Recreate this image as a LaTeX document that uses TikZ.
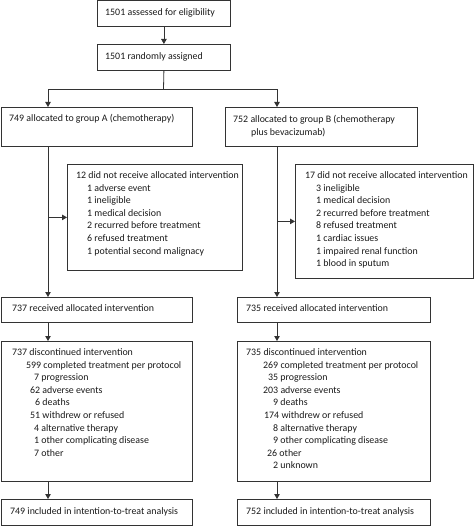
\documentclass[tikz,border=0pt]{standalone}
\usepackage{fontspec}
\setmainfont{Carlito}
\usetikzlibrary{arrows.meta}
\newcommand{\ind}[1]{\hspace*{#1pt}}
\tikzset{
  box/.style={draw=black!80, line width=0.8pt, anchor=north west, inner sep=0pt},
  txt/.style={anchor=north west, inner sep=0pt, align=left, font=\fontsize{9.9}{12.6}\selectfont, text=black!90},
  link/.style={draw=black!80, line width=0.8pt},
  arr/.style={link, -{Triangle[length=5pt,width=5.5pt]}}
}
\begin{document}
\begin{tikzpicture}[x=1pt,y=-1pt]
\useasboundingbox (0,0) rectangle (474,526);

% Boxes
\node[box, minimum width=133pt, minimum height=26pt] (elig) at (97,0.5) {};
\node[box, minimum width=133pt, minimum height=26pt] (rand) at (97,44) {};
\node[box, minimum width=191pt, minimum height=39pt] (allocA) at (1,107) {};
\node[box, minimum width=192pt, minimum height=39pt] (allocB) at (225,107) {};
\node[box, minimum width=175pt, minimum height=106pt] (exclA) at (67,164) {};
\node[box, minimum width=178pt, minimum height=114pt] (exclB) at (295,164) {};
\node[box, minimum width=191pt, minimum height=25pt] (recvA) at (1,297) {};
\node[box, minimum width=193pt, minimum height=25pt] (recvB) at (237,297) {};
\node[box, minimum width=191pt, minimum height=140pt] (discA) at (1,341) {};
\node[box, minimum width=193pt, minimum height=140pt] (discB) at (237,341) {};
\node[box, minimum width=191pt, minimum height=26pt] (ittA) at (1,499) {};
\node[box, minimum width=193pt, minimum height=26pt] (ittB) at (237,499) {};

% Texts
\node[txt] (tElig) at (105,8.5) {1501 assessed for eligibility};
\node[txt] (tRand) at (105,52.5) {1501 randomly assigned};
\node[txt] (tAllocA) at (9,114.5) {749 allocated to group A (chemotherapy)};
\node[txt] (tAllocB) at (233,115.5) {752 allocated to group B (chemotherapy\\ \ind{18}plus bevacizumab)};
\node[txt] (tExclA) at (76,171.5) {12 did not receive allocated intervention\\
  \ind{11}1 adverse event\\
  \ind{11}1 ineligible\\
  \ind{11}1 medical decision\\
  \ind{11}2 recurred before treatment\\
  \ind{11}6 refused treatment\\
  \ind{11}1 potential second malignacy};
\node[txt] (tExclB) at (305,171.5) {17 did not receive allocated intervention\\
  \ind{11}3 ineligible\\
  \ind{11}1 medical decision\\
  \ind{11}2 recurred before treatment\\
  \ind{11}8 refused treatment\\
  \ind{11}1 cardiac issues\\
  \ind{11}1 impaired renal function\\
  \ind{11}1 blood in sputum};
\node[txt] (tRecvA) at (12,304.5) {737 received allocated intervention};
\node[txt] (tRecvB) at (246,304.5) {735 received allocated intervention};
\node[txt] (tDiscA) at (12,348.5) {737 discontinued intervention\\
  \ind{14}599 completed treatment per protocol\\
  \ind{22}7 progression\\
  \ind{18}62 adverse events\\
  \ind{23}6 deaths\\
  \ind{18}51 withdrew or refused\\
  \ind{22}4 alternative therapy\\
  \ind{22}1 other complicating disease\\
  \ind{22}7 other};
\node[txt] (tDiscB) at (246,348.5) {735 discontinued intervention\\
  \ind{17}269 completed treatment per protocol\\
  \ind{22}35 progression\\
  \ind{17}203 adverse events\\
  \ind{27}9 deaths\\
  \ind{18}174 withdrew or refused\\
  \ind{27}8 alternative therapy\\
  \ind{27}9 other complicating disease\\
  \ind{21}26 other\\
  \ind{27}2 unknown};
\node[txt] (tIttA) at (10,507.5) {749 included in intention-to-treat analysis};
\node[txt] (tIttB) at (246,507.5) {752 included in intention-to-treat analysis};

% Trunk and split
\coordinate (split) at (163.5,89);
\coordinate (colA) at (48,89);
\coordinate (colB) at (277,89);
\draw[arr] (elig.south) -- (rand.north);
\draw[link] (rand.south) -- (split);
\draw[arr] (split) -- (colA) -- (colA |- allocA.north);
\draw[arr] (split) -- (colB) -- (colB |- allocB.north);

% Columns
\foreach \g in {A,B} {
  \draw[arr] (allocA.south -| col\g) -- (recv\g.north -| col\g);
  \draw[arr] (excl\g.west -| col\g) -- (excl\g.west);
  \draw[arr] (recv\g.south -| col\g) -- (disc\g.north -| col\g);
  \draw[arr] (disc\g.south -| col\g) -- (itt\g.north -| col\g);
}

\end{tikzpicture}
\end{document}
